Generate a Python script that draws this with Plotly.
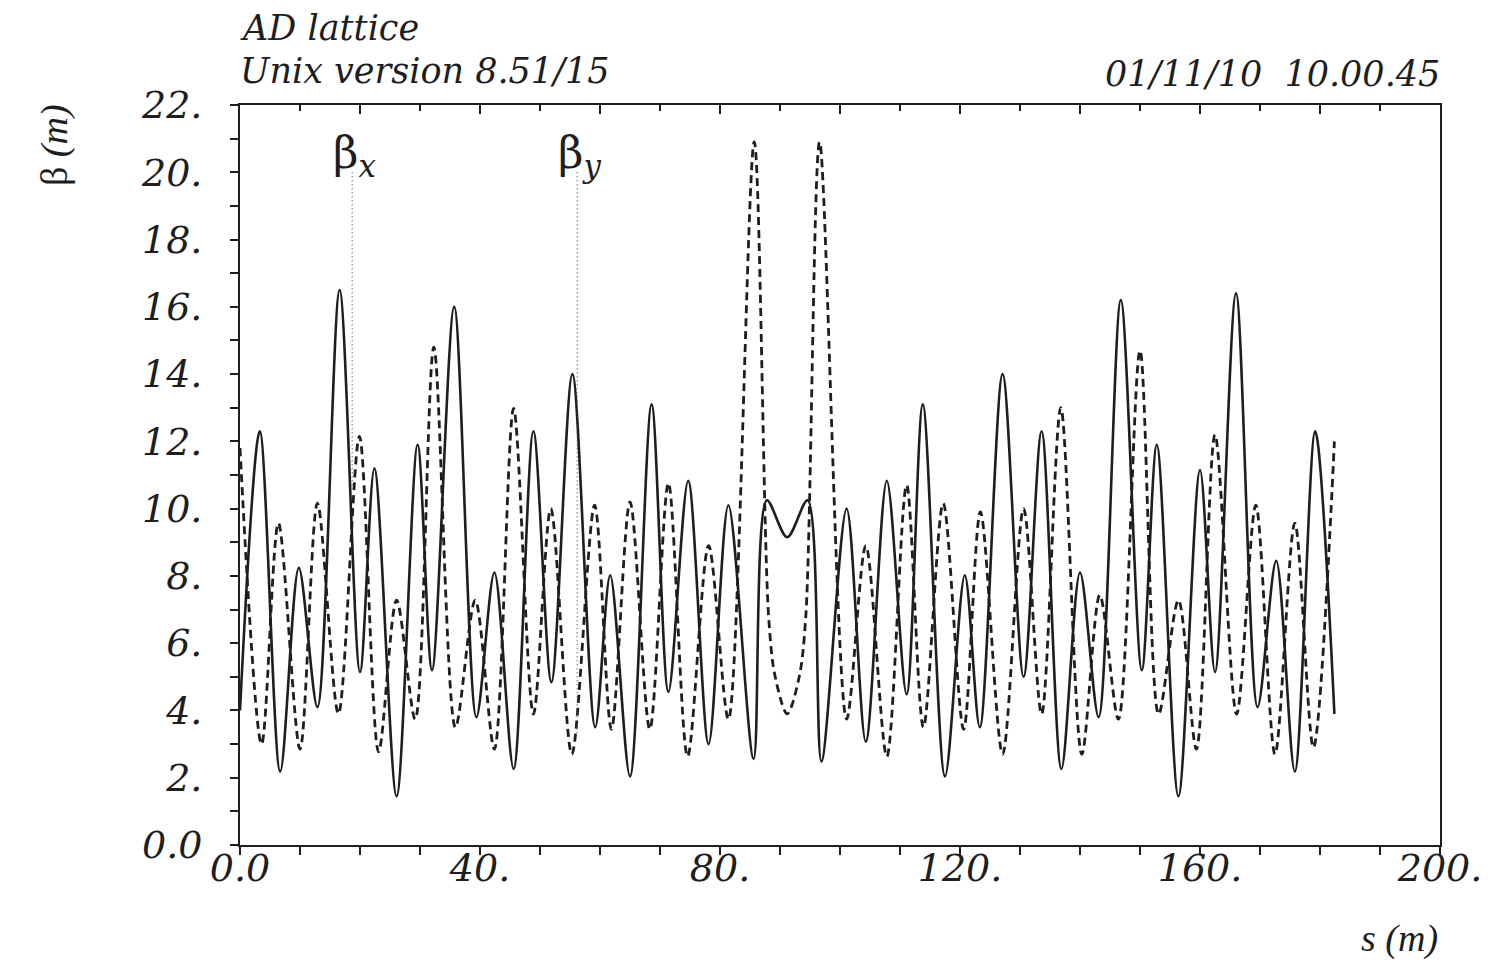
import plotly.graph_objects as go

# ---- data ----
s_x = [0.0, 3.3, 6.7, 9.8, 12.9, 16.6, 20.0, 22.4, 26.1, 29.6, 32.0, 35.7, 39.4, 42.4,
       45.6, 48.9, 51.9, 55.4, 59.2, 61.7, 65.0, 68.6, 71.4, 74.7, 78.1, 81.4, 85.6,
       87.8, 91.2, 94.6, 96.9, 101.1, 104.3, 107.8, 111.1, 113.8, 117.5, 120.8, 123.3,
       127.1, 130.6, 133.6, 136.9, 140.0, 143.1, 146.8, 150.3, 152.8, 156.4, 160.0,
       162.5, 166.0, 169.6, 172.7, 175.8, 179.2, 182.4]
beta_x = [4.0, 12.3, 2.18, 8.24, 4.1, 16.5, 5.14, 11.2, 1.45, 11.9, 5.2, 16.0, 3.8, 8.1,
          2.26, 12.3, 4.84, 14.0, 3.5, 8.02, 2.04, 13.1, 4.55, 10.83, 3.0, 10.1, 2.56,
          10.25, 9.15, 10.25, 2.48, 10.0, 3.07, 10.83, 4.48, 13.1, 2.04, 8.02, 3.5,
          14.0, 5.0, 12.3, 2.26, 8.1, 3.8, 16.2, 5.2, 11.9, 1.45, 11.15,
          5.14, 16.4, 4.1, 8.45, 2.18, 12.3, 3.9]

s_y = [0.0, 3.6, 6.4, 10.0, 12.9, 16.4, 19.9, 23.1, 26.1, 29.2, 32.3, 35.9, 39.2, 42.4,
       45.6, 48.9, 51.8, 55.3, 59.1, 61.9, 65.0, 68.3, 71.4, 74.6, 78.1, 81.4, 85.7,
       88.1, 89.2, 91.2, 93.2, 94.3, 96.6, 101.1, 104.3, 107.8, 111.1, 113.9, 117.2,
       120.6, 123.4, 127.1, 130.6, 133.6, 136.8, 140.3, 143.3, 146.4, 150.0, 153.1,
       156.4, 159.4, 162.5, 166.1, 169.3, 172.5, 175.8, 178.9, 182.4]
beta_y = [11.8, 3.0, 9.57, 2.85, 10.16, 3.9, 12.15, 2.77, 7.28, 3.74, 14.8, 3.5, 7.28, 2.85,
          12.98, 3.89, 10.0, 2.7, 10.1, 3.44, 10.2, 3.44, 10.76, 2.63, 8.9, 3.74, 20.9,
          6.8, 5.0, 3.9, 5.0, 6.8, 20.9, 3.74, 8.9, 2.63, 10.7, 3.5, 10.16,
          3.44, 9.9, 2.7, 10.0, 3.89, 13.0, 2.7, 7.43, 3.74, 14.7, 3.89,
          7.28, 2.85, 12.2, 3.89, 10.1, 2.7, 9.57, 2.9, 12.0]

# curve labels: name, s position, top and bottom of the pointer line
label_names = ["x", "y"]
label_s = [18.7, 56.2]
label_top = [20.0, 20.0]
label_bottom = [10.6, 3.3]

x_tick_vals = [0, 40, 80, 120, 160, 200]
x_tick_text = ["0.0", "40.", "80.", "120.", "160.", "200."]
y_tick_vals = [0, 2, 4, 6, 8, 10, 12, 14, 16, 18, 20, 22]
y_tick_text = ["0.0", "2.", "4.", "6.", "8.", "10.", "12.", "14.", "16.", "18.", "20.", "22."]

INK = "#1e1e1e"
SERIF = "DejaVu Serif"

fig = go.Figure()
fig.add_trace(go.Scatter(x=s_x, y=beta_x, mode="lines",
                         line=dict(color=INK, width=2.6, shape="spline", smoothing=0.9),
                         showlegend=False, hoverinfo="skip"))
fig.add_trace(go.Scatter(x=s_y, y=beta_y, mode="lines",
                         line=dict(color=INK, width=2.8, dash="8px,5px", shape="spline", smoothing=0.9),
                         showlegend=False, hoverinfo="skip"))
for i in range(len(label_s)):
    fig.add_trace(go.Scatter(x=[label_s[i], label_s[i]], y=[label_top[i], label_bottom[i]],
                             mode="lines", xaxis="x2",
                             line=dict(color="#555", width=1.2, dash="1px,3px"),
                             showlegend=False, hoverinfo="skip"))
    fig.add_annotation(x=label_s[i], y=label_top[i], xref="x", yref="y",
                       text="β<sub><i>" + label_names[i] + "</i></sub>",
                       showarrow=False, xanchor="center", yanchor="bottom", yshift=-14, xshift=2,
                       font=dict(family=SERIF, size=44, color=INK))

fig.update_layout(
    width=1489, height=962, autosize=False,
    margin=dict(l=232, r=57, t=97, b=125),
    paper_bgcolor="white", plot_bgcolor="white",
    xaxis=dict(range=[0, 200], showgrid=False, zeroline=False,
               showline=True, linecolor=INK, linewidth=2, mirror=True,
               tickmode="array", tickvals=x_tick_vals, ticktext=x_tick_text,
               ticks="outside", ticklen=8, tickwidth=1.5, tickcolor=INK,
               minor=dict(dtick=10, ticks="outside", ticklen=8, tickwidth=1.5, tickcolor=INK),
               ticklabelstandoff=-20,
               tickfont=dict(family="DejaVu Serif", size=38, color=INK, style="italic")),
    xaxis2=dict(range=[0, 200], overlaying="x", side="top", anchor="y",
                showgrid=False, zeroline=False, showticklabels=False,
                tickmode="linear", tick0=0, dtick=20, ticks="inside", ticklen=9,
                tickwidth=1.5, tickcolor=INK,
                minor=dict(dtick=10, ticks="inside", ticklen=6, tickwidth=1.5, tickcolor=INK)),
    yaxis=dict(range=[0, 22], showgrid=False, zeroline=False,
               showline=True, linecolor=INK, linewidth=2, mirror=True,
               tickmode="array", tickvals=y_tick_vals, ticktext=y_tick_text,
               ticks="outside", ticklen=8, tickwidth=1.5, tickcolor=INK,
               minor=dict(dtick=1, ticks="outside", ticklen=8, tickwidth=1.5, tickcolor=INK),
               ticklabelstandoff=20,
               tickfont=dict(family="DejaVu Serif", size=38, color=INK, style="italic")),
)

title_font = dict(family=SERIF, size=35, color=INK, style="italic")
fig.add_annotation(text="AD lattice", xref="paper", yref="paper", x=0, y=1,
                   xanchor="left", yanchor="bottom", yshift=55, xshift=-2, showarrow=False,
                   font=title_font)
fig.add_annotation(text="Unix version 8.51/15", xref="paper", yref="paper", x=0, y=1,
                   xanchor="left", yanchor="bottom", yshift=12, xshift=-2, showarrow=False,
                   font=title_font)
fig.add_annotation(text="01/11/10  10.00.45", xref="paper", yref="paper", x=1, y=1,
                   xanchor="right", yanchor="bottom", yshift=9, xshift=2, showarrow=False,
                   font=title_font)
fig.add_annotation(text="β <i>(m)</i>", xref="paper", yref="paper", x=0, y=1,
                   xanchor="center", yanchor="middle", xshift=-186, yshift=-40,
                   textangle=-90, showarrow=False,
                   font=dict(family="Liberation Serif", size=38, color=INK))
fig.add_annotation(text="<i>s (m)</i>", xref="paper", yref="paper", x=1, y=0,
                   xanchor="right", yanchor="top", yshift=-70, xshift=0, showarrow=False,
                   font=dict(family="Liberation Serif", size=38, color=INK))

fig.write_html("out.html")
